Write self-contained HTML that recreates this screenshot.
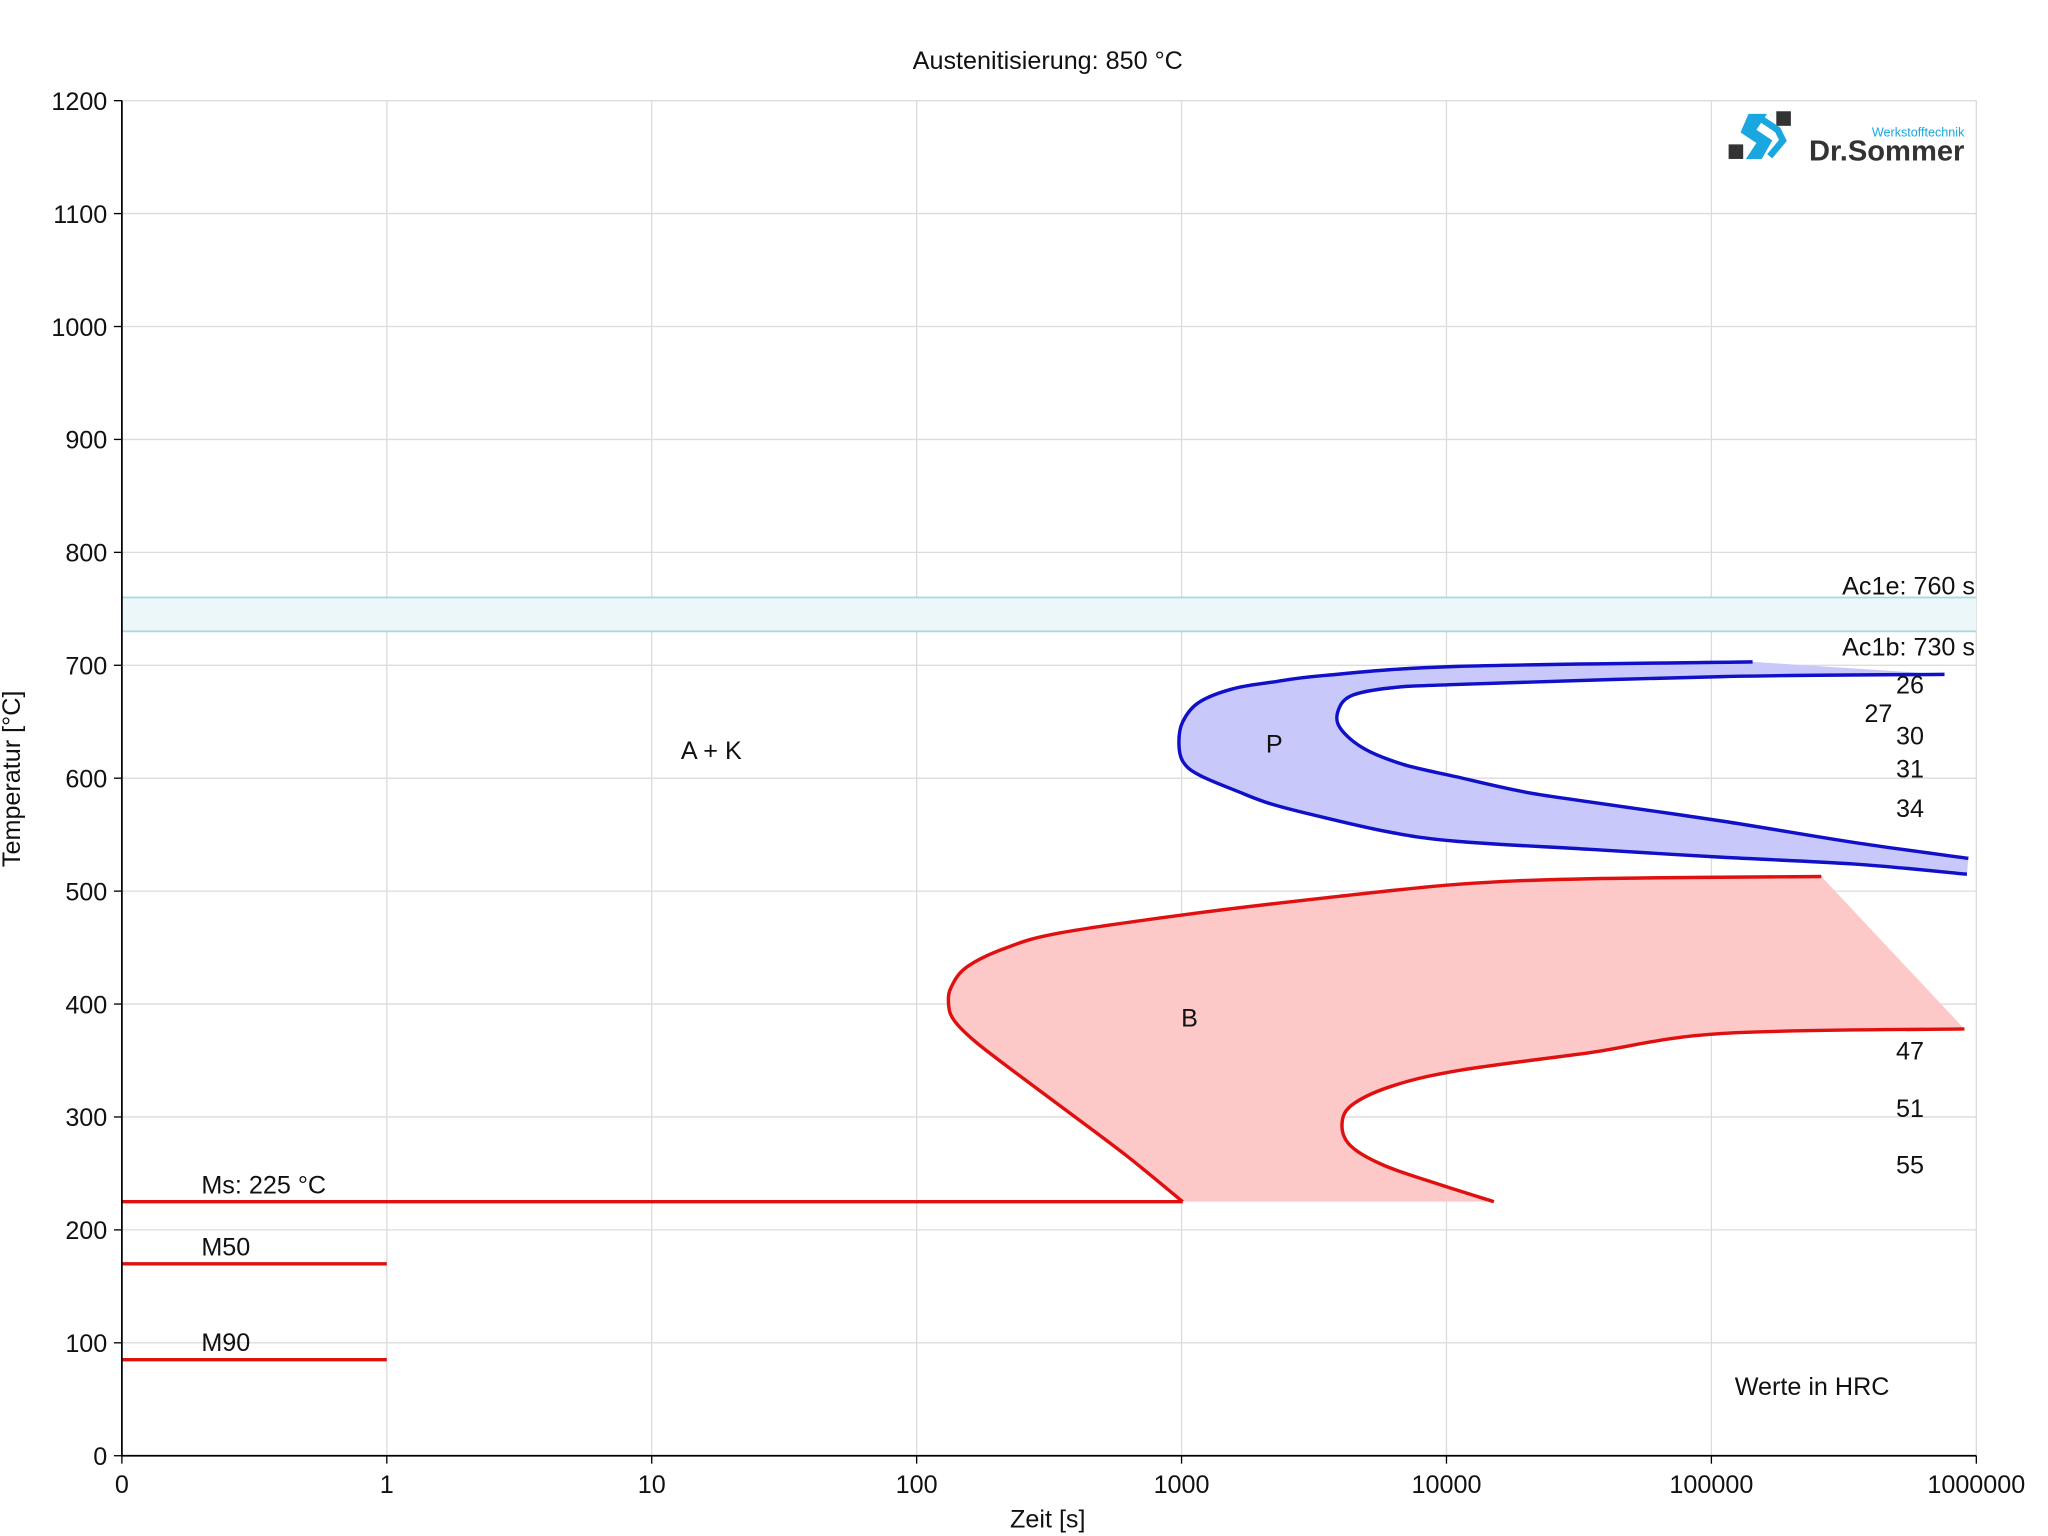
<!DOCTYPE html>
<html><head><meta charset="utf-8"><style>
html,body{margin:0;padding:0;background:#fff}
svg{display:block}
text{font-family:"Liberation Sans",sans-serif;fill:#111}
</style></head><body>
<svg id="chart" width="2048" height="1536" viewBox="0 0 1546.1 1159.6" xmlns="http://www.w3.org/2000/svg">
<g id="grid"></g>
<g id="bands"></g>
<g id="marks"></g>
<g id="axes"></g>
<text x="791" y="52" font-size="19" text-anchor="middle">Austenitisierung: 850 °C</text>
<text x="791" y="1153" font-size="19" text-anchor="middle">Zeit [s]</text>
<text transform="translate(15,588) rotate(-90)" font-size="19" text-anchor="middle">Temperatur [°C]</text>
<text x="1491" y="449" font-size="19" text-anchor="end">Ac1e: 760 s</text>
<text x="1491" y="495" font-size="19" text-anchor="end">Ac1b: 730 s</text>
<text x="537" y="573" font-size="19" text-anchor="middle">A + K</text>
<text x="962" y="568" font-size="19" text-anchor="middle">P</text>
<text x="898" y="775" font-size="19" text-anchor="middle">B</text>
<text x="152" y="901" font-size="19">Ms: 225 °C</text>
<text x="152" y="948" font-size="19">M50</text>
<text x="152" y="1020" font-size="19">M90</text>
<text x="1368" y="1053" font-size="19" text-anchor="middle">Werte in HRC</text>
<g id="hrc"></g>
<g>
<rect x="1305" y="109" width="11" height="11" fill="#333"/>
<rect x="1341" y="84" width="11" height="11" fill="#333"/>
<path d="M1320 86 L1334 86 L1326 98 L1338 106 L1330 120 L1318 120 L1326 108 L1314 100 Z" fill="#1aa7e0"/>
<path d="M1330 90 L1342 98 L1346 106 L1336 118" fill="none" stroke="#1aa7e0" stroke-width="5"/>
<text x="1483" y="103" font-size="9.5" text-anchor="end" style="fill:#1aa7e0">Werkstofftechnik</text>
<text x="1483" y="121" font-size="22" font-weight="bold" text-anchor="end" style="fill:#333">Dr.Sommer</text>
</g>
</svg>
<script>
// ---- data ----
const yTicks = [0,100,200,300,400,500,600,700,800,900,1000,1100,1200];
const xTickValues = [0.1,1,10,100,1000,10000,100000,1000000];
const xTickLabels = ["0","1","10","100","1000","10000","100000","1000000"];
const pearliteOuterT = [143000,11000,3470,2190,1550,1160,1010,977,1010,1160,1640,2190,3470,6170,11000,34700,110000,347000,922000];
const pearliteOuterC = [703,699,691,685,679,667,650,632,615,603,588,577,565,552,544,537,530,524,515];
const pearliteInnerT = [759000,110000,11000,6170,4365,3890,3980,4900,6920,11000,19500,34700,110000,347000,933000];
const pearliteInnerC = [692,690,683,680,673,659,644,626,612,601,588,579,562,543,529];
const bainiteOuterT = [260000,34700,11000,3470,1096,347,219,155,135,132,138,164,219,347,617,1010];
const bainiteOuterC = [513,511,506,494,480,463,450,433,415,400,386,368,345,310,266,225];
const bainiteInnerT = [902000,110000,34700,11000,6170,4365,4030,4365,5820,9770,15100];
const bainiteInnerC = [378,374,357,341,327,310,292,274,257,239,225];
const acBand = [730,760];
const msTemp = 225, m50Temp = 170, m90Temp = 85;
const hrcValues = ["26","27","30","31","34","47","51","55"];
const hrcTemps = [683,658,638,609,574,359,308,258];
const hrcTimes = [562000,427000,562000,562000,562000,562000,562000,562000];

// ---- axes ----
const X0=92, DEC=200, YB=1099, YT=76;
const x = t => X0 + (Math.log10(t)+1)*DEC;
const y = c => YB - c*(YB-YT)/1200;
const NS="http://www.w3.org/2000/svg";
function mk(tag, parent, attrs){const e=document.createElementNS(NS,tag);for(const k in attrs)e.setAttribute(k,attrs[k]);parent.appendChild(e);return e;}
const grid=document.getElementById('grid'), axes=document.getElementById('axes'), marks=document.getElementById('marks'), bands=document.getElementById('bands'), hrc=document.getElementById('hrc');

yTicks.forEach(v=>{
  const g=mk('line',grid,{x1:X0,x2:x(1e6),y1:y(v),y2:y(v),stroke:'#dcdcdc','stroke-width':1});
  
  
  const tk=mk('line',axes,{x1:X0-6,x2:X0,y1:y(v),y2:y(v),stroke:'#000','stroke-width':1});
  
  
  const t=mk('text',axes,{x:X0-11,y:y(v)+7,'font-size':19,'text-anchor':'end'});
  t.textContent=v;
  
  
});
xTickValues.forEach((v,i)=>{
  const g=mk('line',grid,{x1:x(v),x2:x(v),y1:YT,y2:YB,stroke:'#dcdcdc','stroke-width':1});
  
  
  const tk=mk('line',axes,{x1:x(v),x2:x(v),y1:YB,y2:YB+6,stroke:'#000','stroke-width':1});
  
  
  const t=mk('text',axes,{x:x(v),y:YB+28,'font-size':19,'text-anchor':'middle'});
  t.textContent=xTickLabels[i];
  
  
});
const ax1=mk('line',axes,{x1:X0,x2:X0,y1:YT,y2:YB,stroke:'#000','stroke-width':1.3});


const ax2=mk('line',axes,{x1:X0,x2:x(1e6),y1:YB,y2:YB,stroke:'#000','stroke-width':1.3});



// Ac band
const band=mk('rect',bands,{x:X0,y:y(acBand[1]),width:x(1e6)-X0,height:y(acBand[0])-y(acBand[1]),fill:'#ebf7f9'});


acBand.forEach(v=>{
  const l=mk('line',bands,{x1:X0,x2:x(1e6),y1:y(v),y2:y(v),stroke:'#a9d8e0','stroke-width':1.3});
  
  
});

const P=(T,C)=>T.map((t,i)=>[x(t),y(C[i])]);
function smooth(p){
  let d='';
  for(let i=0;i<p.length-1;i++){
    const p0=p[i-1]||p[i], p1=p[i], p2=p[i+1], p3=p[i+2]||p2;
    const c1=[p1[0]+(p2[0]-p0[0])/6, p1[1]+(p2[1]-p0[1])/6];
    const c2=[p2[0]-(p3[0]-p1[0])/6, p2[1]-(p3[1]-p1[1])/6];
    d+=' C'+c1[0].toFixed(1)+','+c1[1].toFixed(1)+' '+c2[0].toFixed(1)+','+c2[1].toFixed(1)+' '+p2[0].toFixed(1)+','+p2[1].toFixed(1);
  }
  return d;
}
function line(T,C,color,name){
  const p=P(T,C);
  const e=mk('path',marks,{d:'M'+p[0][0].toFixed(1)+','+p[0][1].toFixed(1)+smooth(p),fill:'none',stroke:color,'stroke-width':2.6,'stroke-linejoin':'round'});
  
  
}
function area(T1,C1,T2,C2,fill,name){
  const a=P(T1,C1), b=P(T2,C2).reverse();
  const d='M'+a[0][0]+','+a[0][1]+smooth(a)+' L'+b[0][0]+','+b[0][1]+smooth(b)+' Z';
  const e=mk('path',marks,{d:d,fill:fill});
  
  
}
area(pearliteOuterT,pearliteOuterC,pearliteInnerT,pearliteInnerC,'#c8c8fa','pearlite-area');
area(bainiteOuterT,bainiteOuterC,bainiteInnerT,bainiteInnerC,'#fdc8c8','bainite-area');

line(pearliteOuterT,pearliteOuterC,'#1010c8','pearlite-start-curve');
line(pearliteInnerT,pearliteInnerC,'#1010c8','pearlite-end-curve');
line(bainiteOuterT,bainiteOuterC,'#e01010','bainite-start-curve');
line(bainiteInnerT,bainiteInnerC,'#e01010','bainite-end-curve');
line([0.1,1010],[msTemp,msTemp],'#e01010','ms-line');
line([0.1,1],[m50Temp,m50Temp],'#e01010','m50-line');
line([0.1,1],[m90Temp,m90Temp],'#e01010','m90-line');

hrcValues.forEach((v,i)=>{
  const t=mk('text',hrc,{x:x(hrcTimes[i]),y:y(hrcTemps[i])+7,'font-size':19,'text-anchor':'middle'});
  t.textContent=v;
  
  
});
</script>
</body></html>
